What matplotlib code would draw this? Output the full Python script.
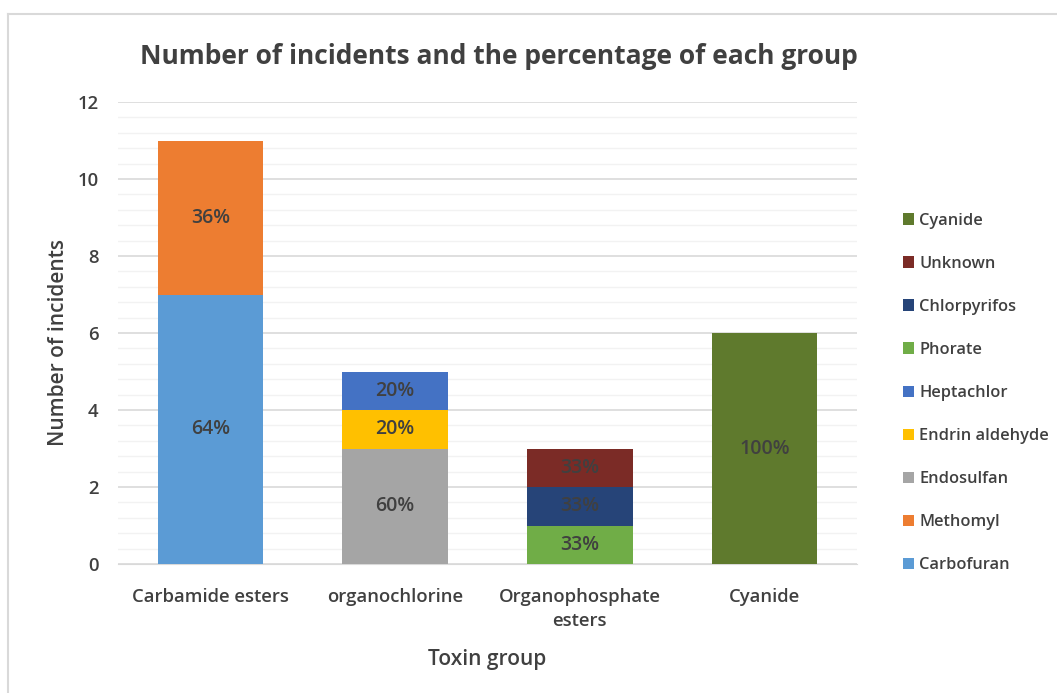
import matplotlib
matplotlib.use("Agg")
import matplotlib.pyplot as plt
from matplotlib.lines import Line2D
from matplotlib.patches import Patch
import numpy as np

plt.rcParams['font.family'] = ['Open Sans', 'DejaVu Sans']
plt.rcParams['font.weight'] = 'semibold'

categories = ["Carbamide esters", "organochlorine", "Organophosphate\nesters", "Cyanide"]
series_names = ["Carbofuran", "Methomyl", "Endosulfan", "Endrin aldehyde", "Heptachlor",
                "Phorate", "Chlorpyrifos", "Unknown", "Cyanide"]
series_cat = [0, 0, 1, 1, 1, 2, 2, 2, 3]
series_values = [7, 4, 3, 1, 1, 1, 1, 1, 6]
series_labels = ["64%", "36%", "60%", "20%", "20%", "33%", "33%", "33%", "100%"]
series_colors = ["#5B9BD5", "#ED7D31", "#A5A5A5", "#FFC000", "#4472C4",
                 "#70AD47", "#264478", "#7B2B26", "#5F7A2D"]
yticks = [0, 2, 4, 6, 8, 10, 12]

fig = plt.figure(figsize=(10.57, 6.93), dpi=100)
ax = fig.add_axes([0.1116, 0.1861, 0.8108 - 0.1116, 0.8528 - 0.1861])

txt = "#404040"
bottoms = np.zeros(len(categories))
for name, c, v, lab, col in zip(series_names, series_cat, series_values, series_labels, series_colors):
    ax.bar(c, v, bottom=bottoms[c], width=0.57, color=col, zorder=3)
    ax.text(c, bottoms[c] + v / 2, lab, ha="center", va="center", fontsize=14,
            color=txt, zorder=4, fontweight="semibold")
    bottoms[c] += v

ax.set_xlim(-0.5, len(categories) - 0.5)
ax.set_ylim(0, 12)
ax.set_yticks(yticks)
ax.set_yticks(np.arange(0, 12.01, 0.4), minor=True)
ax.grid(axis="y", which="major", color="#D9D9D9", linewidth=1.2, zorder=0)
ax.grid(axis="y", which="minor", color="#F2F2F2", linewidth=1.0, zorder=0)
ax.set_xticks(range(len(categories)))
ax.set_xticklabels(categories, fontsize=13.3, color=txt, linespacing=1.45, fontweight="semibold")
for t in ax.get_yticklabels():
    t.set_fontweight("semibold")
ax.tick_params(axis="y", labelsize=13.3, labelcolor=txt, length=0, which="both", pad=14)
ax.tick_params(axis="x", length=0, pad=17)
for s in ["top", "right", "left"]:
    ax.spines[s].set_visible(False)
ax.spines["bottom"].set_color("#D9D9D9")
ax.set_ylabel("Number of incidents", fontsize=15, color=txt, fontweight="semibold")
ax.yaxis.set_label_coords(-0.066, 0.48)
ax.set_xlabel("Toxin group", fontsize=15, color=txt, labelpad=14, fontweight="semibold")

fig.text(0.4716, 1 - 57 / 693, "Number of incidents and the percentage of each group",
         ha="center", va="center", fontsize=19, color=txt, fontweight="bold")

handles = [Patch(facecolor=series_colors[i], label=series_names[i]) for i in range(len(series_names))][::-1]
leg = fig.legend(handles=handles, loc="center left", bbox_to_anchor=(0.84, 1 - 393 / 693),
                 frameon=False, handlelength=0.7, handleheight=0.7,
                 handletextpad=0.3, labelspacing=1.65, labelcolor=txt,
                 prop={"size": 11.8, "weight": "semibold"})

# chart border
fig.add_artist(Line2D([8 / 1057, 8 / 1057], [0, 1 - 14 / 693], transform=fig.transFigure,
                      color="#D9D9D9", linewidth=1.5))
fig.add_artist(Line2D([8 / 1057, 1], [1 - 14 / 693, 1 - 14 / 693], transform=fig.transFigure,
                      color="#D9D9D9", linewidth=1.5))

fig.savefig("out.png", dpi=100)
